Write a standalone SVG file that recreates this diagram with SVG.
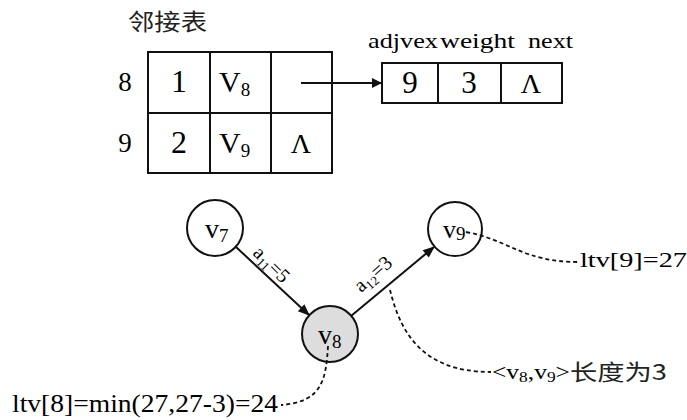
<svg xmlns="http://www.w3.org/2000/svg" width="687" height="420" viewBox="0 0 687 420">
<style>
.t{font-family:"Liberation Serif","Times New Roman","DejaVu Serif",serif;fill:#000}
.c{font-family:"Noto Sans CJK SC",sans-serif;fill:#222}
.box{fill:none;stroke:#111;stroke-width:2}
.ln{stroke:#111;stroke-width:2;fill:none}
.dash{stroke:#111;stroke-width:1.8;fill:none;stroke-dasharray:4 3}
.node{stroke:#111;stroke-width:2}
</style>
<defs>
<marker id="ah" viewBox="0 0 10 10" refX="9" refY="5" markerWidth="10" markerHeight="10" markerUnits="userSpaceOnUse" orient="auto"><path d="M0,0 L10,5 L0,10 z" fill="#111"/></marker>
<marker id="ah2" viewBox="0 0 10 10" refX="9" refY="5" markerWidth="14" markerHeight="12" markerUnits="userSpaceOnUse" orient="auto"><path d="M0,1 L10,5 L0,9 z" fill="#111"/></marker>
</defs>
<text class="c" x="128" y="30" font-size="23" textLength="79" lengthAdjust="spacingAndGlyphs">邻接表</text>
<g id="table">
<rect class="box" x="148" y="52" width="184" height="121"/>
<line class="ln" x1="148" y1="113" x2="332" y2="113"/>
<line class="ln" x1="210" y1="52" x2="210" y2="173"/>
<line class="ln" x1="271" y1="52" x2="271" y2="173"/>
<text class="t" x="125" y="91" font-size="27" text-anchor="middle">8</text>
<text class="t" x="125" y="152" font-size="27" text-anchor="middle">9</text>
<text class="t" x="179" y="92" font-size="32" text-anchor="middle">1</text>
<text class="t" x="179" y="153" font-size="32" text-anchor="middle">2</text>
<text class="t" x="219" y="92" font-size="30">V<tspan font-size="19" dy="4">8</tspan></text>
<text class="t" x="219" y="153" font-size="30">V<tspan font-size="19" dy="4">9</tspan></text>
<text class="t" x="301" y="153" font-size="28" text-anchor="middle">Λ</text>
</g>
<g id="arcnode">
<text class="t" x="368" y="48" font-size="22" textLength="70" lengthAdjust="spacingAndGlyphs">adjvex</text>
<text class="t" x="440" y="48" font-size="22" textLength="75" lengthAdjust="spacingAndGlyphs">weight</text>
<text class="t" x="528" y="48" font-size="22" textLength="45" lengthAdjust="spacingAndGlyphs">next</text>
<rect class="box" x="382" y="63" width="180" height="40"/>
<line class="ln" x1="438" y1="63" x2="438" y2="103"/>
<line class="ln" x1="501" y1="63" x2="501" y2="103"/>
<text class="t" x="410" y="93" font-size="31" text-anchor="middle">9</text>
<text class="t" x="469" y="93" font-size="31" text-anchor="middle">3</text>
<text class="t" x="531" y="93" font-size="28" text-anchor="middle">Λ</text>
</g>
<g id="v7">
<circle class="node" cx="215" cy="228" r="28" fill="#fff"/>
<text class="t" x="205" y="238" font-size="28">v<tspan font-size="19" dy="4">7</tspan></text>
</g>
<g id="v8">
<circle class="node" cx="330" cy="334" r="28" fill="#ddd"/>
<text class="t" x="318" y="344" font-size="28">v<tspan font-size="19" dy="4">8</tspan></text>
</g>
<g id="v9">
<circle class="node" cx="455" cy="229" r="27" fill="#fff"/>
<text class="t" x="443" y="238" font-size="26">v<tspan font-size="19" dy="2">9</tspan></text>
</g>
<g id="connectors">
<line class="ln" x1="301" y1="83" x2="381" y2="83" marker-end="url(#ah)"/>
<line class="ln" x1="236" y1="247" x2="309" y2="315" marker-end="url(#ah2)"/>
<line class="ln" x1="351" y1="316" x2="434" y2="247" marker-end="url(#ah2)"/>
<path class="dash" d="M466,232 C510,240 522,262 579,262"/>
<path class="dash" d="M328,346 C326,380 322,402 281,405"/>
<path class="dash" d="M390,290 C400,330 420,372 491,372"/>
</g>
<g id="labels">
<text class="t" font-size="20" transform="translate(252,254) rotate(45)">a<tspan font-size="13" dy="4">11</tspan><tspan dy="-4">=5</tspan></text>
<text class="t" font-size="20" transform="translate(361,293) rotate(-41)">a<tspan font-size="13" dy="4">12</tspan><tspan dy="-4">=3</tspan></text>
<text class="t" x="580" y="267" font-size="22" textLength="107" lengthAdjust="spacingAndGlyphs">ltv[9]=27</text>
<text class="t" x="12" y="412" font-size="25" textLength="266" lengthAdjust="spacingAndGlyphs">ltv[8]=min(27,27-3)=24</text>
<text class="t" x="492" y="379" font-size="22" textLength="78" lengthAdjust="spacingAndGlyphs">&lt;v<tspan font-size="15" dy="3">8</tspan><tspan dy="-3">,v</tspan><tspan font-size="15" dy="3">9</tspan><tspan dy="-3">&gt;</tspan></text>
<text class="c" x="570" y="380" font-size="22" textLength="97" lengthAdjust="spacingAndGlyphs">长度为3</text>
</g>
</svg>
